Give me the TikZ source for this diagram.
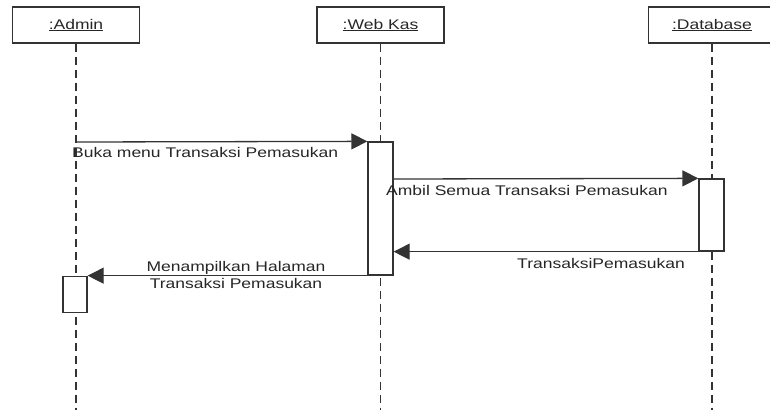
\documentclass[tikz,border=0pt]{standalone}
\usepackage{fontspec}
\setmainfont{Liberation Sans}[FakeStretch=1.25]
\usetikzlibrary{arrows.meta}
\definecolor{ink}{HTML}{333333}
\definecolor{txt}{HTML}{262626}
\begin{document}
\begin{tikzpicture}[x=1pt,y=-1pt,
  every node/.style={font=\fontsize{14}{17}\selectfont, text=txt, inner sep=0pt},
  objbox/.style={draw=ink, line width=1.3pt, fill=white, minimum width=127pt, minimum height=36pt},
  actbox/.style={draw=ink, line width=1.3pt, fill=white, minimum width=25pt},
  lifeline/.style={draw=ink, line width=1.3pt, dash pattern=on 8pt off 5pt},
  msg/.style={draw=ink, line width=1.3pt, -{Triangle[length=16pt,width=16pt]}},
  lbl/.style={anchor=base west}
]
\useasboundingbox (0,0) rectangle (770,410);

% participants
\node[objbox] (admin) at (76,25) {\underline{:Admin}};
\node[objbox] (web)   at (380.5,25) {\underline{:Web Kas}};
\node[objbox] (db)    at (712,25) {\underline{:Database}};

% lifelines
\coordinate (adminEnd) at (76,410);
\coordinate (webEnd)   at (380.5,410);
\coordinate (dbEnd)    at (712,410);
\draw[lifeline] (admin.south) -- (adminEnd);
\draw[lifeline] (web.south) -- (webEnd);
\draw[lifeline] (db.south) -- (dbEnd);

% activations
\node[actbox, minimum height=133pt] (webAct)   at (380.5,208.5) {};
\node[actbox, minimum height=72pt]  (dbAct)    at (711.5,215) {};
\node[actbox, minimum width=24pt, minimum height=36pt] (adminAct) at (75,294.5) {};

% messages
\coordinate (m1start) at (76,142);
\draw[msg] (m1start) -- (webAct.north west);
\node[lbl] (l1) at (72,157) {Buka menu Transaksi Pemasukan};

\coordinate (m2start) at (393,179);
\draw[msg] (m2start -| webAct.east) -- (dbAct.north west);
\node[lbl] (l2) at (386,195) {Ambil Semua Transaksi Pemasukan};

\draw[msg] (dbAct.south west) -- (dbAct.south -| webAct.east);
\node[lbl] (l3) at (517,268) {TransaksiPemasukan};

\draw[msg] (webAct.south west) -- (webAct.south -| adminAct.east);
\node[align=center, anchor=base] (l4) at (236,288) {Menampilkan Halaman\\Transaksi Pemasukan};
\end{tikzpicture}
\end{document}
